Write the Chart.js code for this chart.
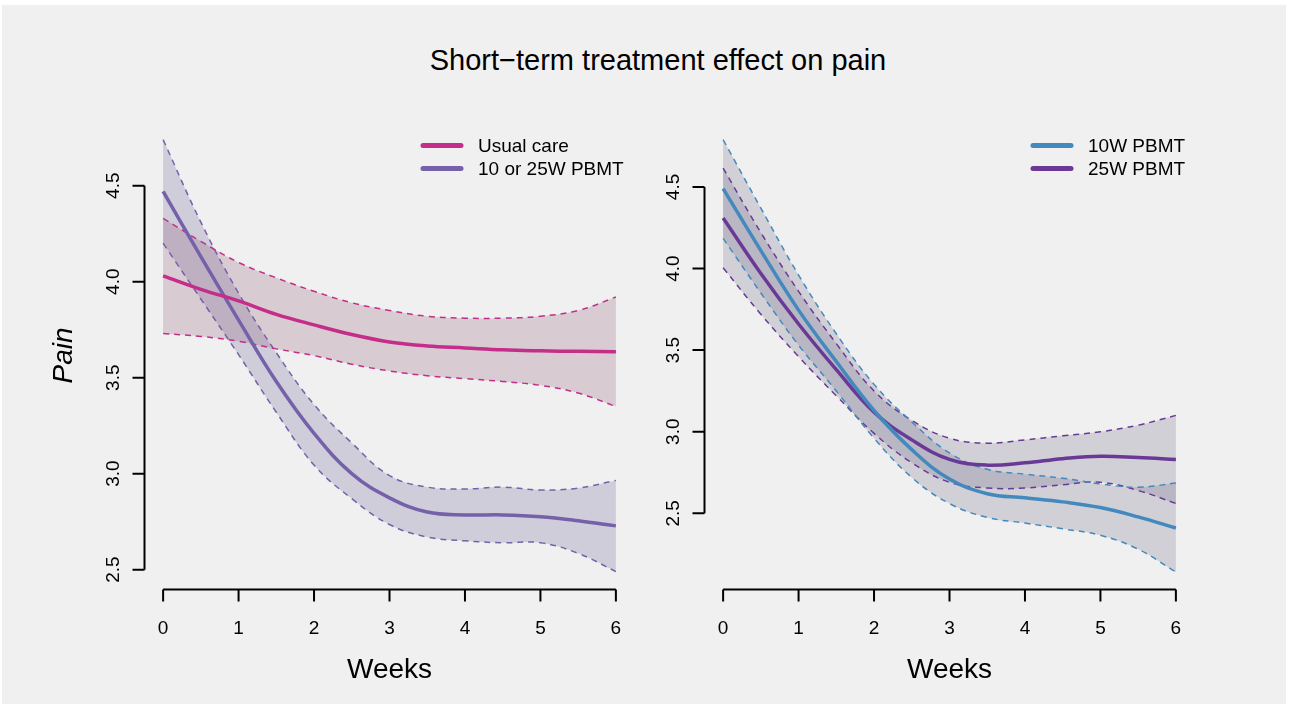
<!DOCTYPE html>
<html>
<head>
<meta charset="utf-8">
<script src="https://cdn.jsdelivr.net/npm/chart.js@4.4.1/dist/chart.umd.min.js"></script>
<style>
  html, body { margin: 0; padding: 0; background: #ffffff; }
  #frame { position: absolute; left: 2px; top: 5px; width: 1284px; height: 699px; background: #f0f0f0; }
  canvas { position: absolute; left: 0; top: 0; }
  #title {
    position: absolute; left: 13px; width: 1290px; top: 46px;
    text-align: center; color: #000;
    font-family: "Liberation Sans", Arial, Helvetica, sans-serif;
    font-size: 29px; line-height: 29px; white-space: nowrap;
  }
</style>
</head>
<body>
<div id="frame"></div>
<div id="title">Short−term treatment effect on pain</div>
<canvas id="leftChart" width="1290" height="704"></canvas>
<canvas id="rightChart" width="1290" height="704"></canvas>
<script>
// Time points (weeks) at which the fitted curves are evaluated
const weeks = [0, 0.5, 1, 1.5, 2, 2.5, 3, 3.5, 4, 4.5, 5, 5.5, 6];

// Left panel: usual care vs. pooled PBMT
const usualMean  = [4.03, 3.96, 3.90, 3.83, 3.775, 3.725, 3.686, 3.665, 3.655, 3.645, 3.64, 3.637, 3.635];
const usualUpper = [4.33, 4.21, 4.10, 4.02, 3.95, 3.89, 3.85, 3.82, 3.81, 3.81, 3.82, 3.85, 3.92];
const usualLower = [3.73, 3.715, 3.69, 3.65, 3.615, 3.57, 3.535, 3.51, 3.495, 3.48, 3.46, 3.42, 3.35];

const pbmtMean  = [4.47, 4.13, 3.80, 3.48, 3.21, 3.00, 2.874, 2.80, 2.785, 2.785, 2.776, 2.755, 2.728];
const pbmtUpper = [4.74, 4.31, 3.94, 3.63, 3.36, 3.16, 2.99, 2.93, 2.92, 2.93, 2.915, 2.925, 2.965];
const pbmtLower = [4.20, 3.91, 3.62, 3.32, 3.045, 2.87, 2.735, 2.67, 2.65, 2.64, 2.64, 2.585, 2.49];

// Right panel: 10W vs. 25W PBMT
const w10Mean  = [4.49, 4.11, 3.745, 3.43, 3.13, 2.89, 2.71, 2.62, 2.595, 2.57, 2.535, 2.478, 2.41];
const w10Upper = [4.79, 4.37, 3.96, 3.60, 3.29, 3.06, 2.87, 2.77, 2.74, 2.715, 2.68, 2.66, 2.685];
const w10Lower = [4.185, 3.85, 3.53, 3.25, 2.96, 2.72, 2.56, 2.475, 2.44, 2.405, 2.365, 2.28, 2.14];

const w25Mean  = [4.31, 3.97, 3.66, 3.38, 3.12, 2.95, 2.83, 2.795, 2.81, 2.835, 2.85, 2.842, 2.83];
const w25Upper = [4.615, 4.22, 3.86, 3.54, 3.25, 3.07, 2.96, 2.93, 2.95, 2.975, 3.00, 3.04, 3.10];
const w25Lower = [4.005, 3.72, 3.46, 3.22, 2.99, 2.81, 2.69, 2.655, 2.655, 2.675, 2.69, 2.64, 2.56];

// Axis ticks
const xTicks = [0, 1, 2, 3, 4, 5, 6];
const yTicks = [2.5, 3.0, 3.5, 4.0, 4.5];

const FONT = '"Liberation Sans", Arial, Helvetica, sans-serif';

const COL = {
  usual: '#c42d8a',
  pbmt:  '#7561aa',
  w10:   '#4389be',
  w25:   '#6a3996'
};

function pts(ys) { return weeks.map((w, i) => ({ x: w, y: ys[i] })); }

function meanLine(label, ys, color) {
  return {
    label, data: pts(ys), borderColor: color, borderWidth: 3.5,
    pointRadius: 0, fill: false, tension: 0.4
  };
}
function boundLine(ys, color, fill, bg) {
  return {
    label: '', data: pts(ys), borderColor: color, borderWidth: 1.5,
    borderDash: [6, 5], pointRadius: 0, fill: fill, backgroundColor: bg || 'transparent',
    tension: 0.4
  };
}

// R-style axes: detached x axis, y axis spanning the tick range, rotated y labels
const rAxes = {
  id: 'rAxes',
  afterDraw(chart, args, opts) {
    const ctx = chart.ctx;
    const xs = chart.scales.x, ys = chart.scales.y;
    const area = chart.chartArea;
    ctx.save();
    ctx.strokeStyle = '#000';
    ctx.fillStyle = '#000';
    ctx.lineWidth = 2;
    ctx.lineCap = 'butt';

    // x axis
    const yAx = area.bottom - 0.5;
    const x0 = xs.getPixelForValue(opts.xTicks[0]);
    const x1 = xs.getPixelForValue(opts.xTicks[opts.xTicks.length - 1]);
    ctx.beginPath();
    ctx.moveTo(x0, yAx); ctx.lineTo(x1, yAx);
    opts.xTicks.forEach(t => {
      const px = xs.getPixelForValue(t);
      ctx.moveTo(px, yAx); ctx.lineTo(px, yAx + 12);
    });
    ctx.stroke();
    ctx.font = '19px ' + FONT;
    ctx.textAlign = 'center';
    ctx.textBaseline = 'alphabetic';
    opts.xTicks.forEach(t => {
      ctx.fillText(String(t), xs.getPixelForValue(t), yAx + 44);
    });

    // y axis
    const xAx = area.left - 0.5;
    const yA = ys.getPixelForValue(opts.yTicks[0]);
    const yB = ys.getPixelForValue(opts.yTicks[opts.yTicks.length - 1]);
    ctx.beginPath();
    ctx.moveTo(xAx, yA); ctx.lineTo(xAx, yB);
    opts.yTicks.forEach(t => {
      const py = ys.getPixelForValue(t);
      ctx.moveTo(xAx, py); ctx.lineTo(xAx - 12, py);
    });
    ctx.stroke();
    opts.yTicks.forEach(t => {
      const py = ys.getPixelForValue(t);
      ctx.save();
      ctx.translate(xAx - 26, py);
      ctx.rotate(-Math.PI / 2);
      ctx.fillText(t.toFixed(1), 0, 0);
      ctx.restore();
    });

    // axis titles
    ctx.font = '28px ' + FONT;
    ctx.fillText(opts.xTitle, (area.left + area.right) / 2, 678);
    if (opts.yTitle) {
      ctx.save();
      ctx.font = 'italic 28px ' + FONT;
      ctx.translate(71.5, (area.top + area.bottom) / 2);
      ctx.rotate(-Math.PI / 2);
      ctx.fillText(opts.yTitle, 0, 0);
      ctx.restore();
    }
    ctx.restore();
  }
};

// Line legend in the top-right corner of each panel
const rLegend = {
  id: 'rLegend',
  afterDraw(chart, args, opts) {
    const ctx = chart.ctx;
    ctx.save();
    ctx.font = '19px ' + FONT;
    ctx.textAlign = 'left';
    ctx.textBaseline = 'middle';
    opts.items.forEach((idx, i) => {
      const ds = chart.data.datasets[idx];
      const y = opts.y + i * 23;
      ctx.strokeStyle = ds.borderColor;
      ctx.lineWidth = 5;
      ctx.lineCap = 'round';
      ctx.beginPath();
      ctx.moveTo(opts.x, y); ctx.lineTo(opts.x + 38, y);
      ctx.stroke();
      ctx.fillStyle = '#000';
      ctx.fillText(ds.label, opts.x + 55, y + 1);
    });
    ctx.restore();
  }
};

function makeChart(canvasId, datasets, yMin, yMax, padLeft, padRight, yTitle, legendX) {
  return new Chart(document.getElementById(canvasId), {
    type: 'line',
    data: { datasets },
    plugins: [rAxes, rLegend],
    options: {
      responsive: false,
      animation: false,
      devicePixelRatio: 1,
      layout: { padding: { left: padLeft, right: padRight, top: 121, bottom: 114 } },
      scales: {
        x: { type: 'linear', min: -0.24, max: 6.24, display: false },
        y: { type: 'linear', min: yMin, max: yMax, display: false }
      },
      plugins: {
        legend: { display: false },
        tooltip: { enabled: false },
        filler: { drawTime: 'beforeDatasetsDraw' },
        rAxes: { xTicks, yTicks, xTitle: 'Weeks', yTitle },
        rLegend: { x: legendX, y: 145.5, items: [0, 1] }
      }
    }
  });
}

// Left panel
makeChart('leftChart', [
  meanLine('Usual care', usualMean, COL.usual),
  meanLine('10 or 25W PBMT', pbmtMean, COL.pbmt),
  boundLine(usualUpper, COL.usual, { target: 3 }, 'rgba(120,60,90,0.2)'),
  boundLine(usualLower, COL.usual, false),
  boundLine(pbmtUpper, COL.pbmt, { target: 5 }, 'rgba(90,80,140,0.22)'),
  boundLine(pbmtLower, COL.pbmt, false)
], 2.394, 4.837, 145, 1290 - 634, 'Pain', 423);

// Right panel
makeChart('rightChart', [
  meanLine('10W PBMT', w10Mean, COL.w10),
  meanLine('25W PBMT', w25Mean, COL.w25),
  boundLine(w10Upper, COL.w10, { target: 3 }, 'rgba(95,88,125,0.21)'),
  boundLine(w10Lower, COL.w10, false),
  boundLine(w25Upper, COL.w25, { target: 5 }, 'rgba(95,88,125,0.21)'),
  boundLine(w25Lower, COL.w25, false)
], 2.030, 4.904, 705, 1290 - 1194, null, 1033);
</script>
</body>
</html>
